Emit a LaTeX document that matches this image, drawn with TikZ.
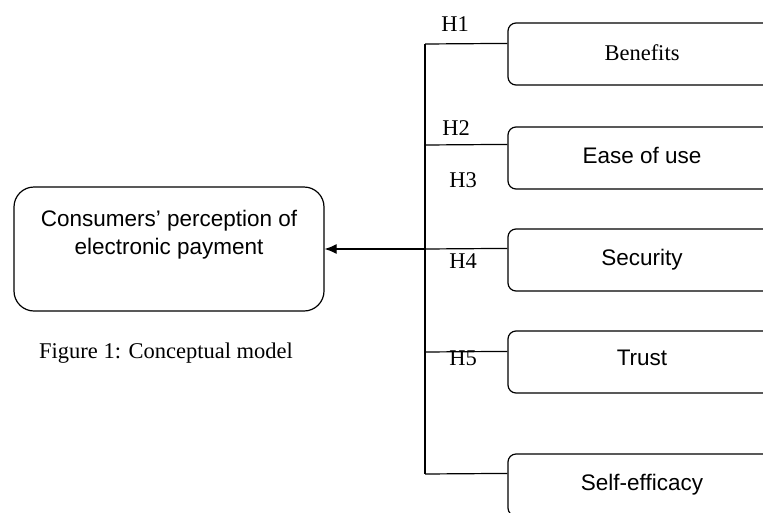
\documentclass[tikz,border=0pt]{standalone}
\usepackage{fontspec}
\setmainfont{Liberation Serif}
\setsansfont{Liberation Sans}
\usetikzlibrary{arrows.meta,calc}
\tikzset{
  factor/.style={draw, line width=1.2pt, rounded corners=8pt, minimum width=268pt, minimum height=62pt, inner sep=0pt, font=\fontsize{22.5}{27}\selectfont\sffamily},
  modelbox/.style={draw, line width=1.2pt, rounded corners=20pt, minimum width=310pt, minimum height=124pt},
  hyp/.style={font=\fontsize{22.5}{27}\selectfont\rmfamily, inner sep=0pt},
  link/.style={line width=1.2pt}
}
\begin{document}
\begin{tikzpicture}[x=1pt,y=-1pt]
  \clip (0,0) rectangle (763,512);
  \fill[white] (0,0) rectangle (763,512);
  \node[modelbox] (cons) at (169,249) {};
  \node[align=center, font=\fontsize{22.5}{28}\selectfont\sffamily, inner sep=0pt] (constext) at (169,235) {Consumers' perception of\\electronic payment};
  \node[factor, font=\fontsize{22.5}{27}\selectfont\rmfamily] (ben) at (642,54) {\raisebox{3pt}{Benefits}};
  \node[factor] (ease) at (642,158) {\raisebox{5pt}{Ease of use}};
  \node[factor] (sec) at (642,260) {Security};
  \node[factor] (trust) at (642,362) {\raisebox{8pt}{Trust}};
  \node[factor] (self) at (642,485) {Self-efficacy};
  \coordinate (top) at (425,44);
  \coordinate (bot) at (425,474);
  \coordinate (mid) at (425,249);
  \draw[link] (top) -- (bot);
  \draw[link] (top) -- ($(ben.north west)+(0,21)$);
  \draw[link] (425,145) -- ($(ease.north west)+(0,18)$);
  \draw[link] (mid) -- ($(sec.north west)+(0,20)$);
  \draw[link] (425,352) -- ($(trust.north west)+(0,21)$);
  \draw[link] (bot) -- ($(self.north west)+(0,20)$);
  \draw[link, -{Latex[length=12pt,width=10pt]}] (mid) -- (cons.east);
  \node[hyp] (h1) at (455,24) {H1};
  \node[hyp] (h2) at (456,128) {H2};
  \node[hyp] (h3) at (463,180) {H3};
  \node[hyp] (h4) at (463,261) {H4};
  \node[hyp] (h5) at (463,358) {H5};
  \node[hyp, anchor=west] (caption) at (39,353) {Figure 1: Conceptual model};
\end{tikzpicture}
\end{document}
